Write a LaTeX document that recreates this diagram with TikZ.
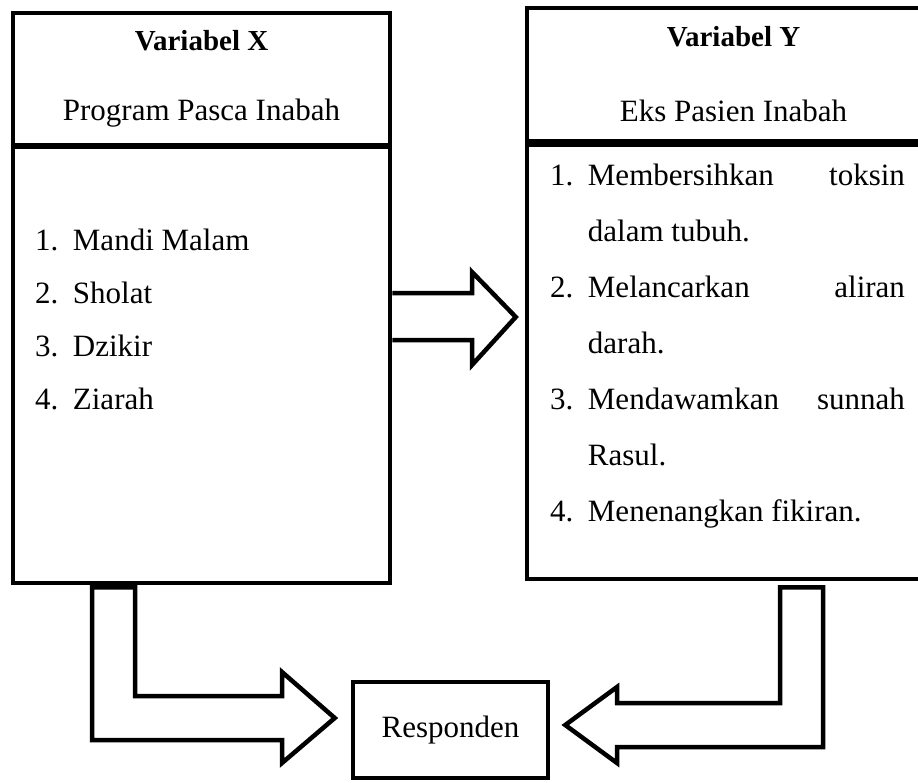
\documentclass[tikz,border=0pt]{standalone}
\usepackage{fontspec}
\setmainfont{Liberation Serif}
\usetikzlibrary{calc}
\usetikzlibrary{positioning}

\tikzset{
  box/.style={draw, rectangle, line width=4.5pt, inner sep=0pt, align=center,
    font=\fontsize{31}{38}\selectfont},
  blockarrow/.style={draw, line width=4.5pt, line join=miter}
}
\newcommand{\headfont}{\fontsize{29}{38}\selectfont\bfseries}

\begin{document}
\begin{tikzpicture}[x=1pt, y=-1pt]

\useasboundingbox (0,0) rectangle (918,782);
\clip (0,0) rectangle (918,782);

\node[box, minimum width=377pt, minimum height=132pt] (xhead) at (201.5,79) {{\headfont Variabel X}\\[32pt]Program Pasca Inabah};
\node[box, minimum width=377pt, minimum height=436pt] (xbody) at (201.5,365) {};
\node[box, minimum width=413pt, minimum height=133pt] (yhead) at (733.5,74.5) {{\headfont Variabel Y}\\[37pt]Eks Pasien Inabah};
\node[box, minimum width=413pt, minimum height=434pt] (ybody) at (733.5,362) {};
\node[box, minimum width=195pt, minimum height=96pt] (resp) at (450.5,730) {Responden};

% isi variabel
\node[anchor=west, inner sep=0pt, font=\fontsize{31}{53}\selectfont] (xlist) at (35,319.4) {%
  \begin{tabular}{@{}l@{\hspace{14.5pt}}l@{}}
    1. & Mandi Malam\\
    2. & Sholat\\
    3. & Dzikir\\
    4. & Ziarah
  \end{tabular}};
\node[anchor=west, inner sep=0pt, font=\fontsize{31}{56}\selectfont] (ylist) at (550,342.3) {%
  \begin{tabular}{@{}l@{\hspace{14.5pt}}p{317pt}@{}}
    1. & Membersihkan\hfill toksin\\
       & dalam tubuh.\\
    2. & Melancarkan\hfill aliran\\
       & darah.\\
    3. & Mendawamkan\hfill sunnah\\
       & Rasul.\\
    4. & Menenangkan fikiran.
  \end{tabular}};

% panah
\path[blockarrow] (xbody.east |- 0,293) -- (472,293) -- ++(0,-21)
  -- ($(ybody.west |- 0,317)+(-9,0)$) -- (472,365) -- ++(0,-25) -- (xbody.east |- 0,340);
\path[blockarrow] ($(xbody.south -| 92,0)+(0,2)$) |- (282,740) -- ++(0,23)
  -- ($(resp.west)+(-16,-12)$) -- (282,672) -- ++(0,24) -| ($(xbody.south -| 135,0)+(0,2)$) -- cycle;
\path[blockarrow] ($(ybody.south -| 780,0)+(0,6)$) |- (617,703) -- ++(0,-16)
  -- ($(resp.east)+(15,-5)$) -- (617,763) -- ++(0,-16) -| ($(ybody.south -| 823,0)+(0,6)$) -- cycle;

\end{tikzpicture}
\end{document}
